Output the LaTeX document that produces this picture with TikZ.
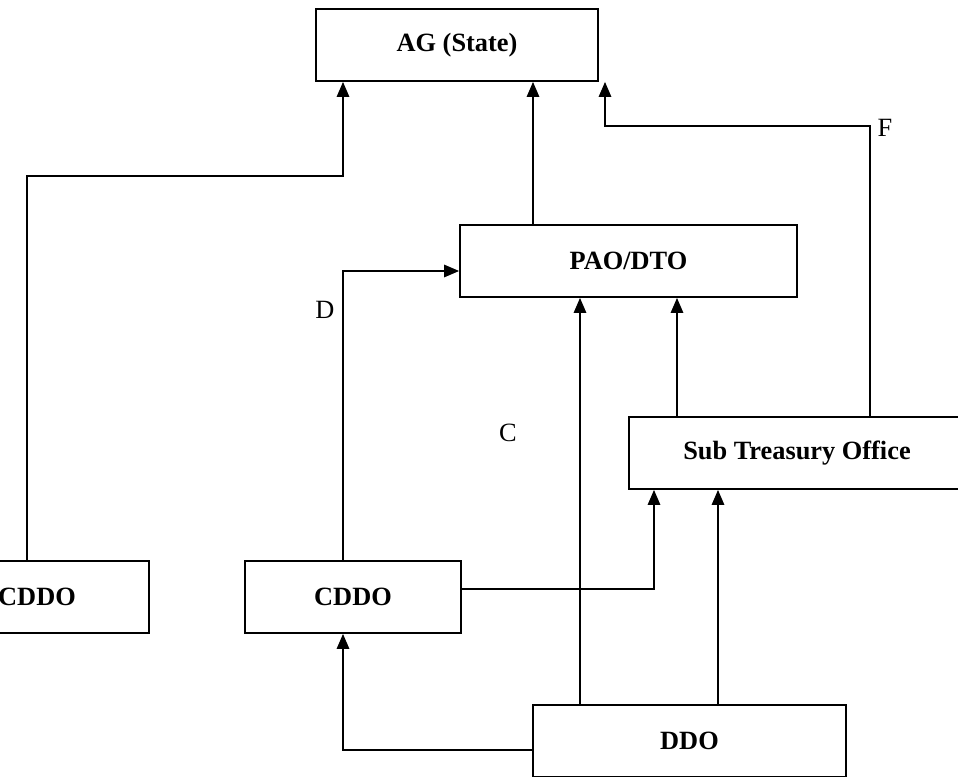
\documentclass[tikz,border=0pt]{standalone}
\usepackage{fontspec}
\setmainfont{Liberation Serif}
\usetikzlibrary{arrows.meta,calc}

\tikzset{
  box/.style={draw, line width=1pt, minimum height=1.44cm, inner sep=0pt,
    font=\fontsize{15}{17}\selectfont\bfseries},
  arr/.style={->, line width=1pt},
  lbl/.style={font=\fontsize{15}{17}\selectfont}
}

\begin{document}
\begin{tikzpicture}[x=0.02cm, y=-0.02cm, >={Triangle[length=8.5pt, width=7pt]}]
  \clip (0,0) rectangle (958,777);
  \fill[white] (0,0) rectangle (958,777);
  % boxes
  \node[box, minimum width=5.64cm] (ag) at (457,45) {AG (State)};
  \node[box, minimum width=6.74cm] (pao) at (628.5,261) {PAO/DTO};
  \node[box, minimum width=6.72cm] (sto) at (797,453) {Sub Treasury Office};
  \node[box, minimum width=4.48cm] (cddoL) at (37,597) {CDDO};
  \node[box, minimum width=4.32cm] (cddoM) at (353,597) {CDDO};
  \node[box, minimum width=6.26cm] (ddo) at (689.5,741) {DDO};
  % into AG
  \draw[arr] ($(cddoL.north)+(-10,0)$) -- ++(0,-384) -| ($(ag.south)+(-114,0)$);
  \draw[arr] ($(pao.north)+(-95.5,0)$) -- ($(ag.south)+(76,0)$);
  \draw[arr] ($(sto.north)+(73,0)$) -- ++(0,-290) -| ($(ag.south)+(148,0)$);
  % into PAO/DTO
  \draw[arr] ($(cddoM.north)+(-10,0)$) |- ($(pao.west)+(0,10)$);
  \draw[arr] ($(ddo.north)+(-109.5,0)$) -- ($(pao.south)+(-48.5,0)$);
  \draw[arr] ($(sto.north)+(-120,0)$) -- ($(pao.south)+(48.5,0)$);
  % into Sub Treasury Office
  \draw[arr] ($(cddoM.east)+(0,-8)$) -| ($(sto.south)+(-143,0)$);
  \draw[arr] ($(ddo.north)+(28.5,0)$) -- ($(sto.south)+(-79,0)$);
  % into CDDO
  \draw[arr] ($(ddo.west)+(0,9)$) -| ($(cddoM.south)+(-10,0)$);
  % letters
  \node[lbl] (labF) at (885,128) {F};
  \node[lbl] (labD) at (325,310) {D};
  \node[lbl] (labC) at (508,433) {C};
\end{tikzpicture}
\end{document}
